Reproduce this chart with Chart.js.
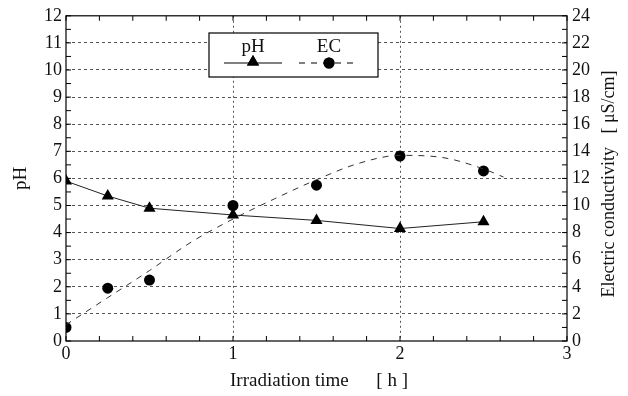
<!DOCTYPE html>
<html lang="en">
<head>
  <meta charset="UTF-8">
  <title>pH and EC vs irradiation time</title>
  <style>
    body {
      margin: 0;
      padding: 0;
      background-color: #ffffff;
    }
    .chart-container {
      width: 628px;
      height: 396px;
    }
  </style>
</head>
<body>

<div class="chart-container">
  <canvas id="chart1" width="628" height="396"></canvas>
</div>

<script src="https://cdn.jsdelivr.net/npm/chart.js"></script>
<script>
  // measured points
  const timeH = [0, 0.25, 0.5, 1, 1.5, 2, 2.5];
  const phValues = [5.9, 5.35, 4.9, 4.65, 4.45, 4.15, 4.4];
  const ecValues = [1.0, 3.9, 4.5, 10.0, 11.5, 13.65, 12.55];

  // dashed EC trend curve
  const ecCurveTime = [0, 0.25, 0.5, 0.75, 1, 1.25, 1.5, 1.75, 2, 2.25, 2.5, 2.62];
  const ecCurveValues = [1.2, 3.2, 5.2, 7.3, 9.0, 10.5, 11.9, 13.1, 13.7, 13.55, 12.7, 12.1];

  const xTicks = [0, 1, 2, 3];
  const phTicks = [0, 1, 2, 3, 4, 5, 6, 7, 8, 9, 10, 11, 12];
  const ecTicks = [0, 2, 4, 6, 8, 10, 12, 14, 16, 18, 20, 22, 24];

  const xTitle = 'Irradiation time';
  const xUnit = '[ h ]';
  const phTitle = 'pH';
  const ecTitle = 'Electric conductivity   [ \u03bcS/cm]';

  const FONT = "'Liberation Serif', 'DejaVu Serif', serif";
  Chart.defaults.font.family = FONT;
  Chart.defaults.color = '#111';

  function toPoints(xs, ys) {
    return xs.map((x, i) => ({ x: x, y: ys[i] }));
  }

  function near(v, list) {
    return list.some(t => Math.abs(v - t) < 1e-6);
  }

  const framePlugin = {
    id: 'frame',
    afterDraw(chart) {
      const c = chart.ctx;
      const a = chart.chartArea;
      const sx = chart.scales.x, sy = chart.scales.y, sy1 = chart.scales.y1;
      c.save();
      c.strokeStyle = '#000';
      c.lineWidth = 1.2;
      c.strokeRect(a.left, a.top, a.right - a.left, a.bottom - a.top);

      // inner tick marks
      c.lineWidth = 1;
      c.beginPath();
      sx.ticks.forEach(t => {
        const px = sx.getPixelForValue(t.value);
        c.moveTo(px, a.bottom); c.lineTo(px, a.bottom - 5);
        c.moveTo(px, a.top); c.lineTo(px, a.top + 5);
      });
      sy.ticks.forEach(t => {
        const py = sy.getPixelForValue(t.value);
        c.moveTo(a.left, py); c.lineTo(a.left + 5, py);
      });
      sy1.ticks.forEach(t => {
        const py = sy1.getPixelForValue(t.value);
        c.moveTo(a.right, py); c.lineTo(a.right - 5, py);
      });
      c.stroke();

      // axis titles
      c.fillStyle = '#111';
      c.font = '19px ' + FONT;
      c.textBaseline = 'middle';
      c.textAlign = 'left';
      c.fillText(xTitle, 230, 381);
      c.textAlign = 'right';
      c.fillText(xUnit, 408, 381);
      c.textAlign = 'center';
      c.save();
      c.translate(21, (a.top + a.bottom) / 2);
      c.rotate(-Math.PI / 2);
      c.fillText(phTitle, 0, 0);
      c.restore();
      c.save();
      c.font = '18px ' + FONT;
      c.translate(609, 184);
      c.rotate(-Math.PI / 2);
      c.fillText(ecTitle, 0, 0);
      c.restore();

      // legend box
      const bx = 209, by = 33, bw = 169, bh = 44;
      c.fillStyle = '#fff';
      c.fillRect(bx, by, bw, bh);
      c.strokeStyle = '#000';
      c.lineWidth = 1.2;
      c.strokeRect(bx, by, bw, bh);

      const ds = chart.data.datasets;
      c.fillStyle = '#111';
      c.font = '19px ' + FONT;
      c.fillText(ds[0].label, 253, 47);
      c.fillText(ds[2].label, 329, 47);

      c.lineWidth = 1;
      c.beginPath();
      c.moveTo(224, 63); c.lineTo(282, 63);
      c.stroke();
      c.setLineDash(ds[1].borderDash);
      c.beginPath();
      c.moveTo(299, 63); c.lineTo(358, 63);
      c.stroke();
      c.setLineDash([]);

      c.fillStyle = '#000';
      Chart.helpers.drawPoint(c, { pointStyle: 'triangle', radius: ds[0].pointRadius, borderWidth: 0 }, 253, 62);
      c.fill();
      Chart.helpers.drawPoint(c, { pointStyle: 'circle', radius: ds[2].pointRadius, borderWidth: 0 }, 329, 63);
      c.fill();
      c.restore();
    }
  };

  const ctx1 = document.getElementById('chart1').getContext('2d');
  const chart1 = new Chart(ctx1, {
    type: 'scatter',
    data: {
      datasets: [
        {
          label: 'pH',
          data: toPoints(timeH, phValues),
          yAxisID: 'y',
          showLine: true,
          borderColor: '#222',
          borderWidth: 1,
          pointStyle: 'triangle',
          pointRadius: 7,
          pointBackgroundColor: '#000',
          pointBorderWidth: 0,
          tension: 0
        },
        {
          label: 'EC trend',
          data: toPoints(ecCurveTime, ecCurveValues),
          yAxisID: 'y1',
          showLine: true,
          borderColor: '#333',
          borderWidth: 1,
          borderDash: [6, 6],
          pointRadius: 0,
          cubicInterpolationMode: 'monotone'
        },
        {
          label: 'EC',
          data: toPoints(timeH, ecValues),
          yAxisID: 'y1',
          showLine: false,
          pointStyle: 'circle',
          pointRadius: 5.5,
          pointBackgroundColor: '#000',
          pointBorderWidth: 0
        }
      ]
    },
    options: {
      responsive: false,
      animation: false,
      layout: { padding: { top: 13, left: 0, right: 0, bottom: 0 } },
      plugins: {
        legend: { display: false },
        tooltip: { enabled: false }
      },
      scales: {
        x: {
          type: 'linear',
          min: 0,
          max: 3,
          afterFit: s => { s.height = 55; },
          ticks: {
            stepSize: 0.2,
            autoSkip: false,
            maxRotation: 0,
            padding: 2,
            font: { size: 18 },
            callback: v => near(v, xTicks) ? String(Math.round(v)) : ''
          },
          grid: {
            drawTicks: false,
            lineWidth: 1,
            color: c => (c.tick && near(c.tick.value, [1, 2])) ? '#555' : 'rgba(0,0,0,0)'
          },
          border: { display: false, dash: [2, 3] }
        },
        y: {
          position: 'left',
          min: 0,
          max: 12,
          afterFit: s => { s.width = 66; },
          ticks: {
            stepSize: 0.5,
            autoSkip: false,
            padding: 4,
            font: { size: 18 },
            callback: v => near(v, phTicks) ? String(Math.round(v)) : ''
          },
          grid: {
            drawTicks: false,
            lineWidth: 1,
            color: c => (c.tick && near(c.tick.value, [1, 2, 3, 4, 5, 6, 7, 8, 9, 10, 11])) ? '#555' : 'rgba(0,0,0,0)'
          },
          border: { display: false, dash: [3, 3] }
        },
        y1: {
          position: 'right',
          min: 0,
          max: 24,
          afterFit: s => { s.width = 61; },
          ticks: {
            stepSize: 1,
            autoSkip: false,
            padding: 5,
            font: { size: 18 },
            callback: v => near(v, ecTicks) ? String(Math.round(v)) : ''
          },
          grid: { display: false, drawTicks: false },
          border: { display: false }
        }
      }
    },
    plugins: [framePlugin]
  });
</script>
</body>
</html>
